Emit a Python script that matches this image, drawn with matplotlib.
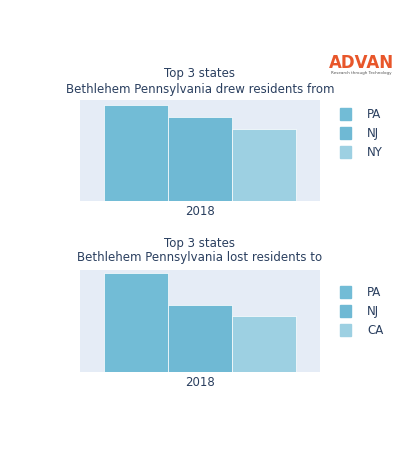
import matplotlib
matplotlib.use("Agg")
import matplotlib.pyplot as plt

top_states = ["PA", "NJ", "NY"]
top_values = [96, 84, 72]
bot_states = ["PA", "NJ", "CA"]
bot_values = [98, 66, 55]
year = "2018"
colors = ["#72bcd6", "#6fb9d4", "#9dd0e2"]

fig = plt.figure(figsize=(4, 4.5), dpi=100)
txtc = "#2a3f5f"

def panel(rect, states, values, t1, t2, ty, legy):
    ax = fig.add_axes(rect)
    ax.set_facecolor("#e5ecf6")
    for i, (s, v) in enumerate(zip(states, values)):
        ax.bar(i, v, width=1.0, color=colors[i], edgecolor="white", linewidth=0.5)
    ax.set_xlim(-0.875, 2.875)
    ax.set_ylim(0, 101)
    ax.set_xticks([1])
    ax.set_xticklabels([year], color=txtc, fontsize=8.5)
    ax.tick_params(length=0, pad=3)
    ax.set_yticks([])
    for sp in ax.spines.values():
        sp.set_visible(False)
    fig.text(0.5, 1 - ty / 450, t1, ha="center", va="center", fontsize=8.5, color=txtc)
    fig.text(0.5, 1 - (ty + 15) / 450, t2, ha="center", va="center", fontsize=8.5, color=txtc)
    for i, s in enumerate(states):
        y = 1 - (legy + i * 19) / 450
        fig.patches.append(plt.Rectangle((340 / 400, y - 6 / 450), 11 / 400, 12 / 450,
                                         transform=fig.transFigure, color=colors[i]))
        fig.text(367 / 400, y, s, va="center", fontsize=8.5, color=txtc)
    return ax

ax1 = panel([0.2, 1 - 201 / 450, 0.6, 101 / 450], top_states, top_values,
            "Top 3 states", "Bethlehem Pennsylvania drew residents from", 74, 114)
ax2 = panel([0.2, 1 - 372 / 450, 0.6, 102 / 450], bot_states, bot_values,
            "Top 3 states", "Bethlehem Pennsylvania lost residents to", 243, 292)

fig.text(361 / 400, 1 - 63 / 450, "ADVAN", ha="center", va="center", fontsize=12,
         color="#e8562a", fontweight="bold")
fig.text(361 / 400, 1 - 73 / 450, "Research through Technology", ha="center", va="center",
         fontsize=3, color="#555555")

fig.savefig("out.png", dpi=100)
